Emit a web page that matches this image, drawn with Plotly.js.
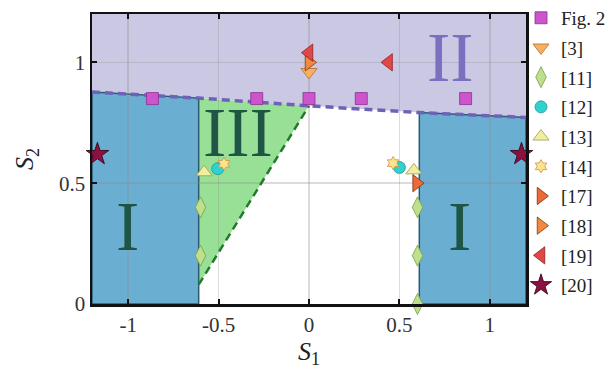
<!DOCTYPE html>
<html><head><meta charset="utf-8">
<script src="https://cdn.plot.ly/plotly-3.0.1.min.js"></script>
<style>html,body{margin:0;padding:0;background:#fff}#chart{width:607px;height:377px}</style>
</head><body><div id="chart"></div>
<script>
// Region boundary (purple dashed line)
const bndX = [-1.2, -0.61, 0, 0.61, 1.2];
const bndY = [0.877, 0.852, 0.82, 0.792, 0.772];
const regionIEdge = 0.61;          // |S1| where region I starts
const greenX = [-0.61, 0];         // green dashed line
const greenY = [0.08, 0.82];
const xRange = [-1.2, 1.2];
const yRange = [0, 1.2];

// Series
const fig2X = [-0.866, -0.289, 0, 0.289, 0.866];
const fig2Y = [0.85, 0.85, 0.85, 0.85, 0.85];
const ref3X = [0];      const ref3Y = [0.96];
const ref11X = [-0.6, -0.6, 0.6, 0.6, 0.6];
const ref11Y = [0.4, 0.2, 0.4, 0.2, 0.0];
const ref12X = [-0.505, 0.5]; const ref12Y = [0.56, 0.565];
const ref13X = [-0.58, 0.58]; const ref13Y = [0.545, 0.553];
const ref14X = [-0.47, 0.465]; const ref14Y = [0.58, 0.583];
const ref17X = [0.595]; const ref17Y = [0.5];
const ref18X = [0];     const ref18Y = [1.0];
const ref19X = [0, 0.44]; const ref19Y = [1.04, 1.0];
const ref20X = [-1.17, 1.175]; const ref20Y = [0.62, 0.62];

const xTicks = [-1, -0.5, 0, 0.5, 1];
const yTicks = [0, 0.5, 1];

function pathFrom(pts){ return 'M ' + pts.map(p => p[0] + ',' + p[1]).join(' L ') + ' Z'; }
const n = bndX.length;
const bnd = bndX.map((x,i)=>[x,bndY[i]]);
const purplePath = pathFrom(bnd.concat([[xRange[1], yRange[1]], [xRange[0], yRange[1]]]));
const blueLeft = pathFrom([[xRange[0], yRange[0]], [-regionIEdge, yRange[0]], bnd[1], bnd[0]]);
const blueRight = pathFrom([[regionIEdge, yRange[0]], [xRange[1], yRange[0]], bnd[n-1], bnd[n-2]]);
const greenPath = pathFrom([bnd[1], bnd[2], [greenX[0], greenY[0]]]);

const serif = 'Liberation Serif';
function mk(name, x, y, symbol, size, color, lineColor){
  return {type:'scatter', mode:'markers', name:name, legendgroup:name, x:x, y:y, cliponaxis:false,
    marker:{symbol:symbol, size:size, color:color, line:{color:lineColor, width:0.8}}};
}
const traces = [
  {type:'scatter', mode:'lines', x:bndX, y:bndY, showlegend:false, hoverinfo:'skip',
   line:{color:'#6d62b8', width:3.5, dash:'8px,5px'}},
  {type:'scatter', mode:'lines', x:greenX, y:greenY, showlegend:false, hoverinfo:'skip',
   line:{color:'#237a2c', width:2.5, dash:'8px,5px'}},
  mk('Fig. 2', fig2X, fig2Y, 'square', 12, '#cc55cc', '#8a3090'),
  mk('[3]', ref3X, ref3Y, 'triangle-down', 14, '#f8b060', '#b07030'),
  mk('[11]', ref11X, ref11Y, 'diamond-tall', 15, '#bfe08a', '#7a9a50'),
  mk('[12]', ref12X, ref12Y, 'circle', 12, '#2ed2d0', '#2a9090'),
  mk('[13]', ref13X, ref13Y, 'triangle-up', 14, '#eef0a0', '#9a9a50'),
  mk('[14]', ref14X, ref14Y, 'hexagram', 10, '#fae490', '#d09040'),
  mk('[17]', ref17X, ref17Y, 'triangle-right', 15, '#ec6a38', '#7a3010'),
  mk('[18]', ref18X, ref18Y, 'triangle-right', 15, '#f08a40', '#7a3a10'),
  mk('[19]', ref19X, ref19Y, 'triangle-left', 15, '#e04848', '#902020'),
  mk('[20]', ref20X, ref20Y, 'star', 17, '#8c1040', '#300010')
];

const layout = {
  width:607, height:377,
  margin:{l:92, r:81, t:14, b:73, autoexpand:false},
  paper_bgcolor:'#ffffff', plot_bgcolor:'#ffffff',
  font:{family:serif, color:'#222'},
  showlegend:true,
  legend:{x:0.9885, xanchor:'left', y:1.052, yanchor:'top', bgcolor:'rgba(0,0,0,0)', maxheight:1,
    traceorder:'grouped', font:{family:serif, size:19, color:'#222'}, itemwidth:30, tracegroupgap:2},
  xaxis:{range:xRange, tickvals:xTicks, ticktext:xTicks.map(String), showgrid:true,
    gridcolor:'rgba(140,140,140,0.3)', gridwidth:1.5, zeroline:false,
    showline:true, mirror:'ticks', linecolor:'#111', linewidth:2.5,
    ticks:'inside', ticklen:5, tickwidth:2, tickcolor:'#111',
    tickfont:{family:serif, size:21, color:'#333'},
    title:{text:'<i>S</i><sub>1</sub>', font:{family:serif, size:26, color:'#222'}, standoff:2}},
  yaxis:{range:yRange, tickvals:yTicks, ticktext:yTicks.map(String), showgrid:true,
    gridcolor:'rgba(140,140,140,0.3)', gridwidth:1.5, zeroline:false,
    showline:true, mirror:'ticks', linecolor:'#111', linewidth:2.5,
    ticks:'inside', ticklen:5, tickwidth:2, tickcolor:'#111',
    tickfont:{family:serif, size:21, color:'#333'},
    title:{text:'<i>S</i><sub>2</sub>', font:{family:serif, size:26, color:'#222'}, standoff:18}},
  shapes:[
    {type:'path', path:purplePath, xref:'x', yref:'y', layer:'below', fillcolor:'#cbc8e3', line:{width:0}},
    {type:'path', path:greenPath, xref:'x', yref:'y', layer:'below', fillcolor:'#98e096', line:{width:0}},
    {type:'path', path:blueLeft, xref:'x', yref:'y', layer:'below', fillcolor:'#6aaed2', line:{color:'#2d5a70', width:1.5}},
    {type:'path', path:blueRight, xref:'x', yref:'y', layer:'below', fillcolor:'#6aaed2', line:{color:'#2d5a70', width:1.5}}
  ],
  annotations:[
    {x:0.78, y:1.02, xref:'x', yref:'y', text:'II', showarrow:false, font:{family:serif, size:70, color:'#7a70c0'}},
    {x:-0.39, y:0.708, xref:'x', yref:'y', text:'III', showarrow:false, font:{family:serif, size:70, color:'#1f5545'}},
    {x:-1.005, y:0.32, xref:'x', yref:'y', text:'I', showarrow:false, font:{family:serif, size:70, color:'#1f5545'}},
    {x:0.83, y:0.32, xref:'x', yref:'y', text:'I', showarrow:false, font:{family:serif, size:70, color:'#1f5545'}}
  ]
};
Plotly.newPlot('chart', traces, layout, {displayModeBar:false, staticPlot:true});
</script></body></html>
